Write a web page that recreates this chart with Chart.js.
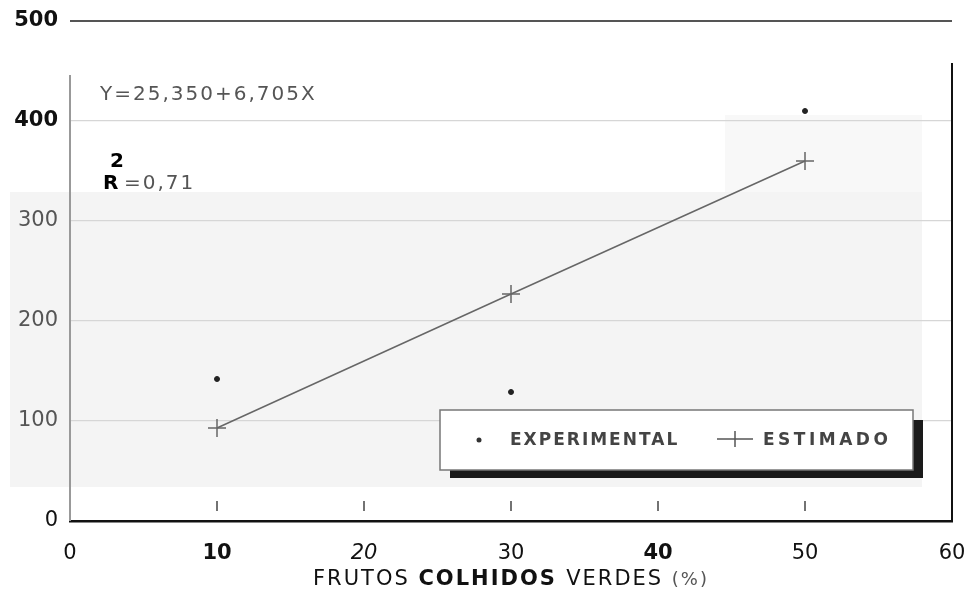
<!DOCTYPE html>
<html>
<head>
<meta charset="utf-8">
<style>
  html, body { margin: 0; padding: 0; background: #fff; }
  #wrap { width: 975px; height: 593px; }
</style>
<script src="https://cdn.jsdelivr.net/npm/chart.js@4.4.1/dist/chart.umd.min.js"></script>
</head>
<body>
<div id="wrap"><canvas id="chart"></canvas></div>
<script>
// dados
const doses = [10, 30, 50];
const experimental = [142, 129, 410];
const estimado = [93, 227, 360];
const xTicks = [0, 10, 20, 30, 40, 50, 60];
const yTicks = [0, 100, 200, 300, 400, 500];
const equacao = 'Y=25,350+6,705X';
const r2 = '=0,71';
const tituloX = ['FRUTOS ', 'COLHIDOS ', 'VERDES ', '(%)'];

const toPoints = (xs, ys) => xs.map((x, i) => ({ x, y: ys[i] }));

// fundo cinza do papel escaneado
const paperBg = {
  id: 'paperBg',
  beforeDraw(chart) {
    const { ctx } = chart;
    ctx.save();
    ctx.fillStyle = '#f4f4f4';
    ctx.fillRect(10, 192, 912, 295);
    ctx.fillStyle = '#f8f8f8';
    ctx.fillRect(725, 115, 197, 77);
    ctx.restore();
  }
};

const extras = {
  id: 'extras',
  afterDatasetsDraw(chart) {
    const { ctx, chartArea, scales } = chart;
    const x = scales.x, y = scales.y;
    ctx.save();

    // eixo y (interrompido perto do topo)
    ctx.strokeStyle = '#999';
    ctx.lineWidth = 2;
    ctx.beginPath();
    ctx.moveTo(chartArea.left, y.getPixelForValue(446));
    ctx.lineTo(chartArea.left, chartArea.bottom);
    ctx.stroke();

    // borda direita
    ctx.strokeStyle = '#111';
    ctx.lineWidth = 2;
    ctx.beginPath();
    ctx.moveTo(chartArea.right, y.getPixelForValue(458));
    ctx.lineTo(chartArea.right, chartArea.bottom);
    ctx.stroke();

    // marcas do eixo x (soltas, acima do eixo)
    ctx.strokeStyle = '#444';
    ctx.lineWidth = 1.5;
    [10, 20, 30, 40, 50].forEach(v => {
      const px = x.getPixelForValue(v);
      ctx.beginPath();
      ctx.moveTo(px, chartArea.bottom - 20);
      ctx.lineTo(px, chartArea.bottom - 10);
      ctx.stroke();
    });

    // equação e R²
    ctx.textBaseline = 'middle';
    ctx.textAlign = 'left';
    ctx.letterSpacing = '2px';
    ctx.fillStyle = '#555';
    ctx.font = '20px "DejaVu Sans"';
    ctx.fillText(equacao, 100, 95);
    ctx.fillStyle = '#000';
    ctx.font = 'bold 20px "DejaVu Sans"';
    ctx.fillText('R', 103, 184);
    ctx.fillText('2', 110, 162);
    ctx.fillStyle = '#555';
    ctx.font = '20px "DejaVu Sans"';
    ctx.fillText(r2, 124, 184);

    // legenda com sombra
    const lx = 440, ly = 410, lw = 473, lh = 60;
    ctx.fillStyle = '#1a1a1a';
    ctx.fillRect(lx + 10, ly + 10, lw, lh - 2);
    ctx.fillStyle = '#fff';
    ctx.fillRect(lx, ly, lw, lh);
    ctx.strokeStyle = '#777';
    ctx.lineWidth = 1.5;
    ctx.strokeRect(lx, ly, lw, lh);

    const ds = chart.data.datasets;
    const cy = ly + 31;
    ctx.fillStyle = '#333';
    ctx.beginPath();
    ctx.arc(lx + 39, cy - 1, 2.5, 0, Math.PI * 2);
    ctx.fill();
    ctx.font = 'bold 17px "DejaVu Sans"';
    ctx.fillStyle = '#444';
    ctx.letterSpacing = '2px';
    ctx.fillText(ds[0].label, lx + 70, cy);

    ctx.strokeStyle = '#555';
    ctx.lineWidth = 1.5;
    ctx.beginPath();
    ctx.moveTo(lx + 277, cy - 2);
    ctx.lineTo(lx + 313, cy - 2);
    ctx.moveTo(lx + 295, cy - 10);
    ctx.lineTo(lx + 295, cy + 6);
    ctx.stroke();
    ctx.letterSpacing = '3.5px';
    ctx.fillText(ds[1].label, lx + 323, cy);

    // título do eixo x
    ctx.letterSpacing = '2px';
    const fonts = [
      '21px "DejaVu Sans"',
      'bold 21px "DejaVu Sans"',
      '21px "DejaVu Sans"',
      '18px "DejaVu Sans"'
    ];
    let total = 0;
    tituloX.forEach((t, i) => { ctx.font = fonts[i]; total += ctx.measureText(t).width; });
    let tx = (chartArea.left + chartArea.right) / 2 - total / 2;
    tituloX.forEach((t, i) => {
      ctx.font = fonts[i];
      ctx.fillStyle = i === 3 ? '#555' : '#111';
      ctx.fillText(t, tx, 580);
      tx += ctx.measureText(t).width;
    });
    ctx.restore();
  }
};

new Chart(document.getElementById('chart'), {
  type: 'scatter',
  data: {
    datasets: [
      {
        label: 'EXPERIMENTAL',
        data: toPoints(doses, experimental),
        pointStyle: 'circle',
        pointRadius: 2.5,
        backgroundColor: '#222',
        borderColor: '#222',
        showLine: false
      },
      {
        label: 'ESTIMADO',
        data: toPoints(doses, estimado),
        pointStyle: 'cross',
        pointRadius: 9,
        pointBorderWidth: 1.5,
        borderColor: '#666',
        backgroundColor: '#666',
        borderWidth: 1.5,
        showLine: true
      }
    ]
  },
  options: {
    responsive: true,
    maintainAspectRatio: false,
    animation: false,
    layout: { padding: { top: 21, right: 23, left: 0, bottom: 0 } },
    plugins: {
      legend: { display: false },
      tooltip: { enabled: false }
    },
    scales: {
      x: {
        type: 'linear',
        min: 0,
        max: 60,
        afterBuildTicks: s => { s.ticks = xTicks.map(v => ({ value: v })); },
        afterFit: s => { s.height = 72; s.paddingLeft = 0; s.paddingRight = 0; },
        grid: { display: false, drawTicks: false },
        border: { display: true, color: '#111', width: 2.5 },
        ticks: {
          padding: 20,
          color: '#111',
          font: c => ({
            family: 'DejaVu Sans',
            size: 21,
            weight: (c.tick && (c.tick.value === 10 || c.tick.value === 40)) ? 'bold' : 'normal',
            style: (c.tick && c.tick.value === 20) ? 'italic' : 'normal'
          })
        }
      },
      y: {
        min: 0,
        max: 500,
        afterBuildTicks: s => { s.ticks = yTicks.map(v => ({ value: v })); },
        afterFit: s => { s.width = 70; s.paddingTop = 0; s.paddingBottom = 0; },
        grid: {
          drawTicks: false,
          color: c => c.tick.value === 500 ? '#555' : (c.tick.value === 0 ? 'rgba(0,0,0,0)' : '#d6d6d6'),
          lineWidth: c => c.tick.value === 500 ? 2 : 1.2
        },
        border: { display: false },
        ticks: {
          padding: 12,
          color: c => (c.tick.value >= 100 && c.tick.value <= 300) ? '#555' : '#111',
          font: c => ({
            family: 'DejaVu Sans',
            size: 21,
            weight: (c.tick && (c.tick.value === 400 || c.tick.value === 500)) ? 'bold' : 'normal'
          })
        }
      }
    }
  },
  plugins: [paperBg, extras]
});
</script>
</body>
</html>
